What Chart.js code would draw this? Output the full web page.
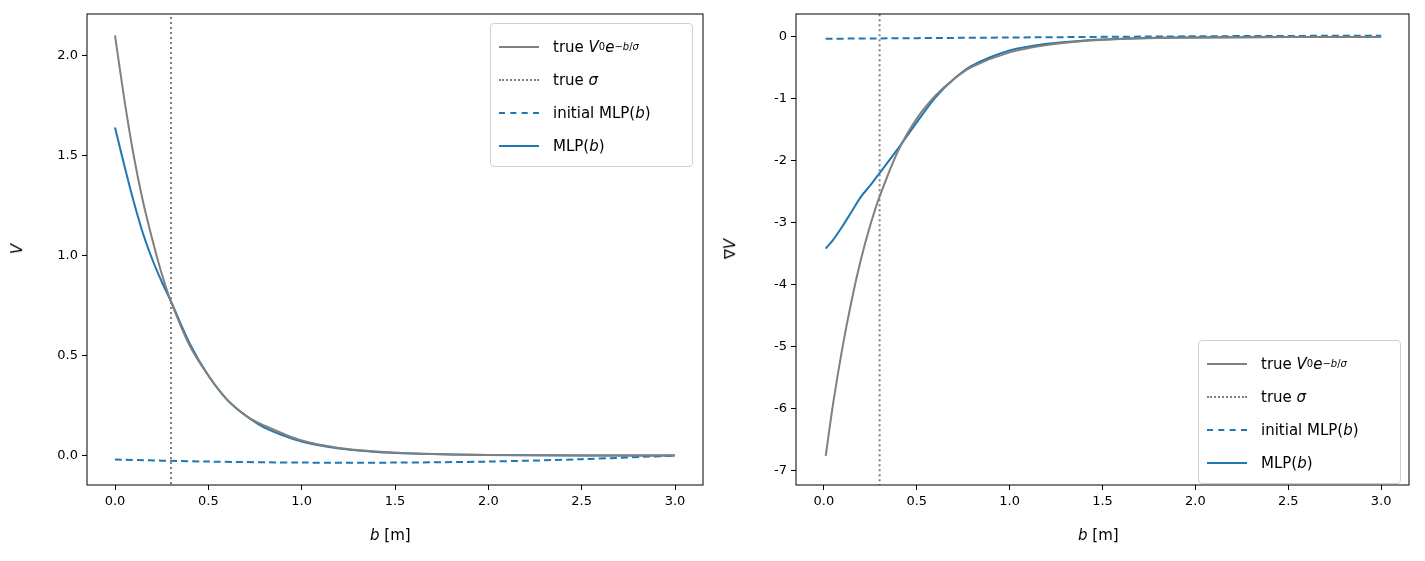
<!DOCTYPE html>
<html><head><meta charset="utf-8">
<script src="https://cdn.jsdelivr.net/npm/chart.js@4"></script>
<style>
body{margin:0;width:1425px;height:561px;background:#fff;font-family:"DejaVu Sans",sans-serif;position:relative;overflow:hidden}
canvas{position:absolute;top:0}
.lab{position:absolute;font-size:15px;color:#000;white-space:nowrap}
.leg{position:absolute;border:1px solid #d0d0d0;border-radius:4px;background:rgba(255,255,255,0.85);padding:6px 10px 4px 8px;font-size:15px}
.row{display:flex;align-items:center;height:33px}
.ln{width:40px;margin-right:14px;border-top-width:2px;height:0}
sup{font-size:10px}
sub{font-size:10px}
</style></head><body>
<canvas id="c1" width="712" height="561" style="left:0;width:712px;height:561px"></canvas>
<canvas id="c2" width="713" height="561" style="left:712px;width:713px;height:561px"></canvas>

<div class="lab" style="left:370px;top:526px"><i>b</i> [m]</div>
<div class="lab" style="left:1078px;top:526px"><i>b</i> [m]</div>
<div class="lab" style="left:12px;top:240px;transform:rotate(-90deg)"><i>V</i></div>
<div class="lab" style="left:720px;top:240px;transform:rotate(-90deg)">∇<i>V</i></div>

<div class="leg" style="left:490px;top:23px;width:183px">
 <div class="row"><div class="ln" style="border-top:2px solid #808080"></div>true <i>&nbsp;V</i><sub>0</sub><i>e</i><sup>−<i>b</i>/<i>σ</i></sup></div>
 <div class="row"><div class="ln" style="border-top:2px dotted #808080"></div>true <i>&nbsp;σ</i></div>
 <div class="row"><div class="ln" style="border-top:2px dashed #1f77b4"></div>initial MLP(<i>b</i>)</div>
 <div class="row"><div class="ln" style="border-top:2px solid #1f77b4"></div>MLP(<i>b</i>)</div>
</div>
<div class="leg" style="left:1198px;top:340px;width:183px">
 <div class="row"><div class="ln" style="border-top:2px solid #808080"></div>true <i>&nbsp;V</i><sub>0</sub><i>e</i><sup>−<i>b</i>/<i>σ</i></sup></div>
 <div class="row"><div class="ln" style="border-top:2px dotted #808080"></div>true <i>&nbsp;σ</i></div>
 <div class="row"><div class="ln" style="border-top:2px dashed #1f77b4"></div>initial MLP(<i>b</i>)</div>
 <div class="row"><div class="ln" style="border-top:2px solid #1f77b4"></div>MLP(<i>b</i>)</div>
</div>

<script>
// values
const bLeft = [0,0.05,0.1,0.15,0.2,0.25,0.3,0.4,0.5,0.6,0.7,0.8,1.0,1.2,1.4,1.6,1.8,2.0,2.5,3.0];
const vTrue = [2.10,1.78,1.50,1.27,1.08,0.91,0.77,0.55,0.40,0.28,0.20,0.15,0.075,0.038,0.020,0.010,0.005,0.003,0.0005,0];
const vMlp  = [1.64,1.45,1.27,1.11,0.98,0.87,0.77,0.56,0.40,0.28,0.20,0.14,0.07,0.035,0.018,0.01,0.006,0.003,0.001,0];
const bInit = [0,0.5,1.0,1.5,2.0,2.5,3.0];
const vInit = [-0.02,-0.03,-0.035,-0.035,-0.03,-0.018,0];

const bRight = [0.01,0.05,0.1,0.15,0.2,0.25,0.3,0.4,0.5,0.6,0.7,0.8,1.0,1.2,1.4,1.6,1.8,2.0,2.5,3.0];
const gTrue = [-6.77,-5.92,-5.02,-4.25,-3.59,-3.04,-2.58,-1.84,-1.32,-0.95,-0.68,-0.48,-0.25,-0.13,-0.066,-0.034,-0.017,-0.009,-0.002,0];
const gMlp  = [-3.42,-3.28,-3.06,-2.82,-2.58,-2.40,-2.20,-1.80,-1.38,-0.98,-0.68,-0.46,-0.22,-0.11,-0.06,-0.03,-0.015,-0.008,-0.002,0];
const bInitR = [0.01,1.0,2.0,3.0];
const gInit = [-0.03,-0.01,0.01,0.02];

const sigma = 0.3;
const xTicks = [0,0.5,1.0,1.5,2.0,2.5,3.0];
const yTicksL = [0,0.5,1.0,1.5,2.0];
const yTicksR = [-7,-6,-5,-4,-3,-2,-1,0];

const GRAY = '#808080', BLUE = '#1f77b4';
Chart.defaults.font.family = 'DejaVu Sans';
Chart.defaults.font.size = 13;
Chart.defaults.color = '#000';

const pts = (xs, ys) => xs.map((x, i) => ({x, y: ys[i]}));
const boxPlugin = {id:'box', afterDraw(c){const a=c.chartArea,g=c.ctx;g.save();g.strokeStyle='#000';g.lineWidth=1;g.strokeRect(a.left,a.top,a.right-a.left,a.bottom-a.top);g.restore();}};

function make(id, sets, yMin, yMax, yTicks, yW, rightPad, yDec) {
  const grid = {display:true, drawOnChartArea:false, drawTicks:true, tickLength:5, color:'#000'};
  new Chart(document.getElementById(id), {
    type:'line',
    data:{datasets:sets},
    options:{
      responsive:false, animation:false,
      layout:{padding:{top:14, right:rightPad, left:0, bottom:0}},
      plugins:{legend:{display:false}, tooltip:{enabled:false}},
      elements:{point:{radius:0}, line:{tension:0.3, borderWidth:2}},
      scales:{
        x:{type:'linear', min:-0.15, max:3.15, grid, border:{display:false},
           afterBuildTicks:s=>{s.ticks = xTicks.map(v=>({value:v}));},
           ticks:{callback:v=>v.toFixed(1), maxRotation:0, padding:4},
           afterFit:s=>{s.height = 76;}},
        y:{type:'linear', min:yMin, max:yMax, grid, border:{display:false},
           afterBuildTicks:s=>{s.ticks = yTicks.map(v=>({value:v}));},
           ticks:{callback:v=>v.toFixed(yDec), padding:4},
           afterFit:s=>{s.width = yW;}}
      }
    },
    plugins:[boxPlugin]
  });
}

const vline = {data:[{x:sigma,y:-100},{x:sigma,y:100}], borderColor:GRAY, borderDash:[2,3], borderWidth:2, tension:0};

make('c1', [
  {data:pts(bLeft,vTrue), borderColor:GRAY},
  vline,
  {data:pts(bInit,vInit), borderColor:BLUE, borderDash:[7,4]},
  {data:pts(bLeft,vMlp), borderColor:BLUE}
], -0.147, 2.207, yTicksL, 87, 9, 1);

make('c2', [
  {data:pts(bRight,gTrue), borderColor:GRAY},
  Object.assign({}, vline),
  {data:pts(bInitR,gInit), borderColor:BLUE, borderDash:[7,4]},
  {data:pts(bRight,gMlp), borderColor:BLUE}
], -7.24, 0.37, yTicksR, 84, 16, 0);
</script>
</body></html>
